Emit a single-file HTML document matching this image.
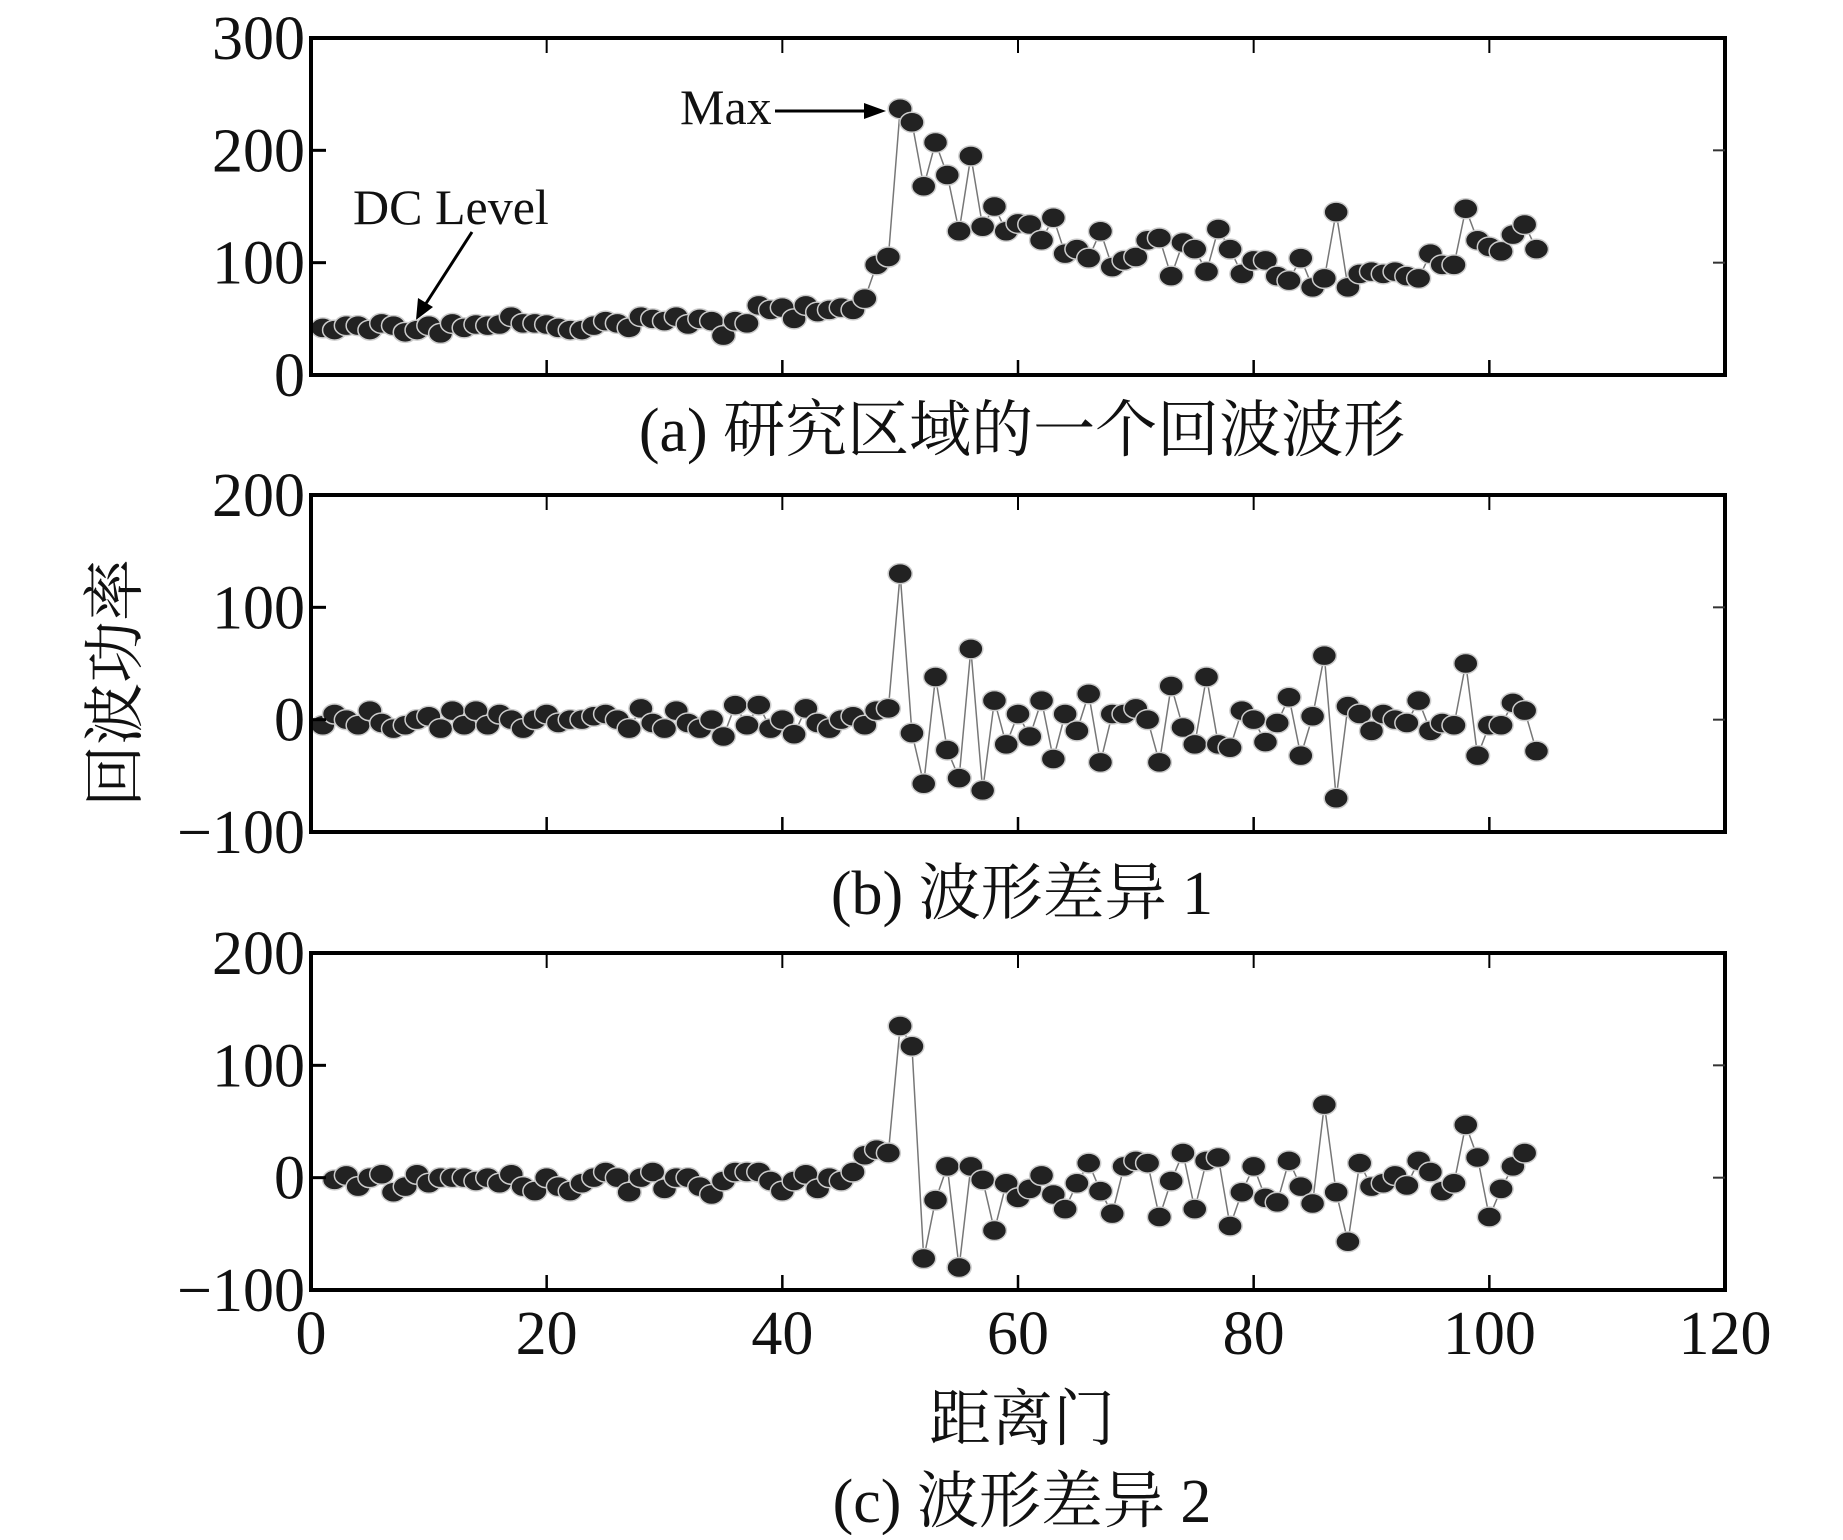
<!DOCTYPE html>
<html><head><meta charset="utf-8"><style>
body{margin:0;background:#fff}
svg text{font-family:"Liberation Serif","Noto Serif CJK SC",serif;fill:#111}
</style></head><body>
<svg id="fig" width="1843" height="1535" viewBox="0 0 1843 1535" xmlns="http://www.w3.org/2000/svg">
<text x="0" y="0" font-size="62" text-anchor="middle" transform="translate(136,683) rotate(-90)">回波功率</text>
<text x="1022" y="451" font-size="62" text-anchor="middle">(a) 研究区域的一个回波波形</text>
<text x="1022" y="914" font-size="62" text-anchor="middle">(b) 波形差异 1</text>
<text x="1022" y="1440" font-size="62" text-anchor="middle">距离门</text>
<text x="1022" y="1522" font-size="62" text-anchor="middle">(c) 波形差异 2</text>
<g>
<text x="680" y="124" font-size="50">Max</text>
<line x1="775" y1="111" x2="868" y2="111" stroke="#000" stroke-width="3"/>
<polygon points="886,111 864,103 864,119" fill="#000"/>
</g>
<g>
<text x="353" y="224" font-size="50">DC Level</text>
<line x1="472" y1="232" x2="425" y2="305" stroke="#000" stroke-width="3"/>
<polygon points="416,320 418,298 433,307" fill="#000"/>
</g>
</svg>
<script>
const xTicks=[0,20,40,60,80,100,120];
const ticksA=[0,100,200,300];
const ticksBC=[-100,0,100,200];
const xA=[1,2,3,4,5,6,7,8,9,10,11,12,13,14,15,16,17,18,19,20,21,22,23,24,25,26,27,28,29,30,31,32,33,34,35,36,37,38,39,40,41,42,43,44,45,46,47,48,49,50,51,52,53,54,55,56,57,58,59,60,61,62,63,64,65,66,67,68,69,70,71,72,73,74,75,76,77,78,79,80,81,82,83,84,85,86,87,88,89,90,91,92,93,94,95,96,97,98,99,100,101,102,103,104];
const seriesA=[42,40,44,44,40,46,44,38,40,44,37,46,42,45,44,45,52,46,46,45,42,40,40,44,48,46,42,52,50,48,52,45,50,48,35,48,46,62,58,60,50,62,56,58,60,58,68,98,105,237,225,168,207,178,128,195,132,150,128,135,134,120,140,108,112,104,128,96,102,105,120,122,88,118,112,92,130,112,90,102,102,88,84,104,78,86,145,78,90,92,90,92,88,86,108,98,98,148,120,114,110,125,134,112];
const seriesB=[-5,5,0,-5,8,-3,-8,-5,0,3,-8,8,-5,8,-5,5,0,-8,0,5,-3,0,0,3,5,0,-8,10,-3,-8,8,-3,-8,0,-15,13,-5,13,-8,0,-13,10,-3,-8,0,3,-5,8,10,130,-12,-57,38,-27,-52,63,-63,17,-22,5,-15,17,-35,5,-10,23,-38,5,5,10,0,-38,30,-7,-22,38,-22,-25,8,0,-20,-3,20,-32,3,57,-70,12,5,-10,5,0,-3,17,-10,-3,-5,50,-32,-5,-5,15,8,-28];
const xC=[2,3,4,5,6,7,8,9,10,11,12,13,14,15,16,17,18,19,20,21,22,23,24,25,26,27,28,29,30,31,32,33,34,35,36,37,38,39,40,41,42,43,44,45,46,47,48,49,50,51,52,53,54,55,56,57,58,59,60,61,62,63,64,65,66,67,68,69,70,71,72,73,74,75,76,77,78,79,80,81,82,83,84,85,86,87,88,89,90,91,92,93,94,95,96,97,98,99,100,101,102,103];
const seriesC=[-2,2,-8,0,3,-13,-8,3,-5,0,0,0,-3,0,-5,3,-8,-12,0,-8,-12,-5,0,5,0,-13,0,5,-10,0,0,-8,-15,-3,5,5,5,-3,-12,-3,3,-10,0,-3,5,20,25,22,135,117,-72,-20,10,-80,10,-2,-47,-5,-18,-10,2,-15,-28,-5,13,-12,-32,10,15,13,-35,-3,22,-28,15,18,-43,-13,10,-18,-22,15,-8,-23,65,-13,-57,13,-8,-5,2,-7,15,5,-12,-5,47,18,-35,-10,10,22,-20];
const xB=xA;

const svg=document.getElementById('fig');
const NS='http://www.w3.org/2000/svg';
const L=311,R=1725;
function xs(v){return L+(R-L)*v/120;}
function mk(t,a){const e=document.createElementNS(NS,t);for(const k in a)e.setAttribute(k,a[k]);svg.appendChild(e);return e;}

function panel(name,top,bot,ymin,ymax,yt,xv,yv,showX){
  const ys=v=>bot-(bot-top)*(v-ymin)/(ymax-ymin);
  const pts=xv.map((x,i)=>xs(x)+','+ys(yv[i])).join(' ');
  const pl=mk('polyline',{points:pts,fill:'none',stroke:'#777','stroke-width':1.5});
  
  
  xv.forEach((x,i)=>{
    const c=mk('ellipse',{cx:xs(x),cy:ys(yv[i]),rx:12,ry:10,fill:'#222',stroke:'#ccc','stroke-width':1.5});
    
    
  });
  const f=mk('rect',{x:L,y:top,width:R-L,height:bot-top,fill:'none',stroke:'#000','stroke-width':4});
  
  
  xTicks.forEach(t=>{
    if(t===0||t===120)return;
    const x=xs(t);
    const a=mk('line',{x1:x,y1:bot,x2:x,y2:bot-15,stroke:'#000','stroke-width':2.5});
    
    
    const b=mk('line',{x1:x,y1:top,x2:x,y2:top+15,stroke:'#000','stroke-width':2});
    
    
  });
  if(showX){
    xTicks.forEach(t=>{
      const tx=mk('text',{x:xs(t),y:bot+64,'font-size':62,'text-anchor':'middle'});
      tx.textContent=t;
      
      
    });
  }
  yt.forEach(t=>{
    const y=ys(t);
    if(t!==ymin&&t!==ymax){
      const a=mk('line',{x1:L,y1:y,x2:L+15,y2:y,stroke:'#000','stroke-width':3});
      
      
      const b=mk('line',{x1:R,y1:y,x2:R-12,y2:y,stroke:'#333','stroke-width':2});
      
      
    }
    const tx=mk('text',{x:L-6,y:y+21,'font-size':62,'text-anchor':'end'});
    tx.textContent=t<0?'\u2212'+(-t):t;
    
    
  });
}
panel('panel-a',38,375,0,300,ticksA,xA,seriesA,false);
panel('panel-b',495,832,-100,200,ticksBC,xB,seriesB,false);
panel('panel-c',953,1290,-100,200,ticksBC,xC,seriesC,true);
</script>
</body></html>
